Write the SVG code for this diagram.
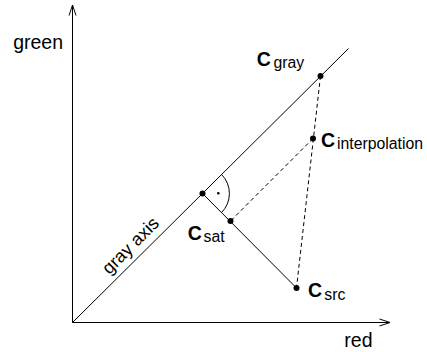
<svg xmlns="http://www.w3.org/2000/svg" width="427" height="352" viewBox="0 0 427 352">
<style>
.ln{stroke:#000;stroke-width:1;fill:none}
.ds{stroke:#000;stroke-width:1;fill:none;stroke-dasharray:4,3}
.pt{fill:#000}
.lab{font-family:"Liberation Sans",Arial,sans-serif;font-size:19.5px;fill:#000}
.c{font-family:"Liberation Sans",Arial,sans-serif;font-size:19.5px;font-weight:bold;fill:#000}
.sub{font-family:"Liberation Sans",Arial,sans-serif;font-size:15.8px;font-weight:normal;fill:#000}
</style>
<rect width="427" height="352" fill="#fff"/>
<g id="connectors">
<path class="ln" d="M72.5,322.5 V5 M69,15.5 L72.5,5 L76,15.5"/>
<path class="ln" d="M72.5,322.5 H390 M379.5,319 L390,322.5 L379.5,326"/>
<path class="ln" d="M72.5,322.5 L348.5,48.5"/>
<path class="ln" d="M202.5,193.5 L296.5,288"/>
<path class="ds" d="M320.5,76 L296.5,288"/>
<path class="ds" d="M313,138.5 L230.5,221"/>
<path class="ln" d="M221.6,174.5 A27,27 0 0 1 221.5,212.6"/>
<circle class="pt" cx="218.3" cy="193.3" r="1.3"/>
</g>
<g id="axis-green"><text class="lab" x="13.2" y="48.5">green</text></g>
<g id="axis-red"><text class="lab" x="344.3" y="346.5">red</text></g>
<g id="gray-axis-label"><text class="lab" transform="translate(109.3,275.3) rotate(-45)" style="font-size:18px">gray axis</text></g>
<g id="foot"><circle class="pt" cx="202.5" cy="193.5" r="3"/></g>
<g id="c-gray"><circle class="pt" cx="320.5" cy="76" r="3"/><text class="c" x="256.8" y="65.8">C</text><text class="sub" x="273.4" y="68.2">gray</text></g>
<g id="c-interpolation"><circle class="pt" cx="313" cy="138.5" r="3"/><text class="c" x="321.1" y="147">C</text><text class="sub" x="337" y="149.2">interpolation</text></g>
<g id="c-sat"><circle class="pt" cx="230.5" cy="221" r="3"/><text class="c" x="187.8" y="240">C</text><text class="sub" x="203.6" y="242.3">sat</text></g>
<g id="c-src"><circle class="pt" cx="296.5" cy="288" r="3"/><text class="c" x="308.1" y="297.3">C</text><text class="sub" x="324.3" y="299.5">src</text></g>
</svg>
